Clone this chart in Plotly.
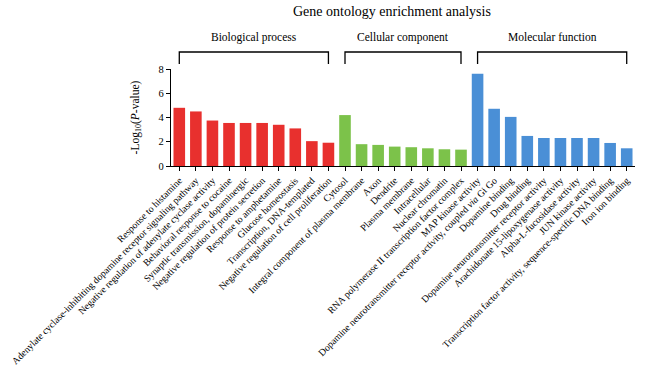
import plotly.graph_objects as go

bp_terms = [
    "Response to histamine",
    "Adenylate cyclase-inhibiting dopamine receptor signaling pathway",
    "Negative regulation of adenylate cyclase activity",
    "Behavioral response to cocaine",
    "Synaptic transmission, dopaminergic",
    "Negative regulation of protein secretion",
    "Response to amphetamine",
    "Glucose homeostasis",
    "Transcription, DNA-templated",
    "Negative regulation of cell proliferation",
]
bp_values = [4.8, 4.5, 3.75, 3.55, 3.55, 3.55, 3.4, 3.1, 2.05, 1.92]

cc_terms = [
    "Cytosol",
    "Integral component of plasma membrane",
    "Axon",
    "Dendrite",
    "Plasma membrane",
    "Intracellular",
    "Nuclear chromatin",
    "RNA polymerase II transcription factor complex",
]
cc_values = [4.2, 1.8, 1.74, 1.6, 1.55, 1.46, 1.38, 1.35]

mf_terms = [
    "MAP kinase activity",
    "Dopamine neurotransmitter receptor activity, coupled <i>via</i> Gi Go",
    "Dopamine binding",
    "Drug binding",
    "Dopamine neurotransmitter receptor activity",
    "Arachidonate 15-lipoxygenase activity",
    "Alpha-L-fucosidase activity",
    "JUN kinase activity",
    "Transcription factor activity, sequence-specific DNA binding",
    "Iron ion binding",
]
mf_values = [7.6, 4.72, 4.05, 2.48, 2.31, 2.31, 2.31, 2.31, 1.9, 1.46]

groups = ["Biological process", "Cellular component", "Molecular function"]
group_terms = [bp_terms, cc_terms, mf_terms]
group_values = [bp_values, cc_values, mf_values]
group_colors = ["#E8302E", "#7CC24A", "#4A8FD6"]

title_text = "Gene ontology enrichment analysis"
y_title = "-Log<sub>10</sub>(<i>P</i>-value)"
y_ticks = [0, 2, 4, 6, 8]

FONT = "Liberation Serif"

W, H = 650, 376
ML, MR, MT, MB = 171, 15, 69, 210
PW, PH = W - ML - MR, H - MT - MB

fig = go.Figure()
all_terms = []
shapes = []
annotations = []
start = 0
for name, terms, vals, col in zip(groups, group_terms, group_values, group_colors):
    xs = list(range(start, start + len(terms)))
    fig.add_trace(go.Bar(x=xs, y=vals, marker=dict(color=col, line=dict(width=0)),
                         name=name, showlegend=False, hoverinfo="skip"))
    all_terms += terms
    x0, x1 = xs[0], xs[-1]
    ytop = 1.0 + (MT - 52) / PH
    ylow = 1.0 + (MT - 64) / PH
    shapes.append(dict(type="path", xref="x", yref="paper",
                       path=f"M {x0},{ylow} L {x0},{ytop} L {x1},{ytop} L {x1},{ylow}",
                       line=dict(color="black", width=1.3)))
    annotations.append(dict(x=(x0 + x1) / 2, y=1.0 + (MT - 37) / PH, xref="x", yref="paper",
                            text=name, showarrow=False,
                            font=dict(family=FONT, size=11.5, color="black"),
                            xanchor="center", yanchor="middle"))
    start += len(terms)

annotations.append(dict(x=(392 - ML) / PW, y=1.0 + (MT - 12) / PH, xref="paper", yref="paper",
                        text=title_text, showarrow=False,
                        font=dict(family=FONT, size=14, color="black"),
                        xanchor="center", yanchor="middle"))

fig.update_layout(
    width=W, height=H,
    margin=dict(l=ML, r=MR, t=MT, b=MB, autoexpand=False),
    paper_bgcolor="white", plot_bgcolor="white",
    bargap=0.3,
    shapes=shapes,
    annotations=annotations,
    font=dict(family=FONT, color="black"),
)
fig.update_xaxes(
    range=[-0.5, len(all_terms) - 0.5],
    tickmode="array", tickvals=list(range(len(all_terms))), ticktext=all_terms,
    tickangle=-45, tickfont=dict(family=FONT, size=9.7, color="black"),
    showline=True, linecolor="black", linewidth=1.2,
    ticks="outside", ticklen=4, tickcolor="black", tickwidth=1,
    showgrid=False, zeroline=False, automargin=False,
)
fig.update_yaxes(
    range=[0, 8], tickvals=y_ticks,
    tickfont=dict(family=FONT, size=10.5, color="black"),
    showline=True, linecolor="black", linewidth=1.2,
    ticks="outside", ticklen=4, tickcolor="black", tickwidth=1,
    showgrid=False, zeroline=False, automargin=False,
    title=dict(text=y_title, font=dict(family=FONT, size=11.5, color="black"), standoff=16),
)

fig.write_html("out.html", config={"displayModeBar": False},
               post_script="document.body.style.margin='0';")
